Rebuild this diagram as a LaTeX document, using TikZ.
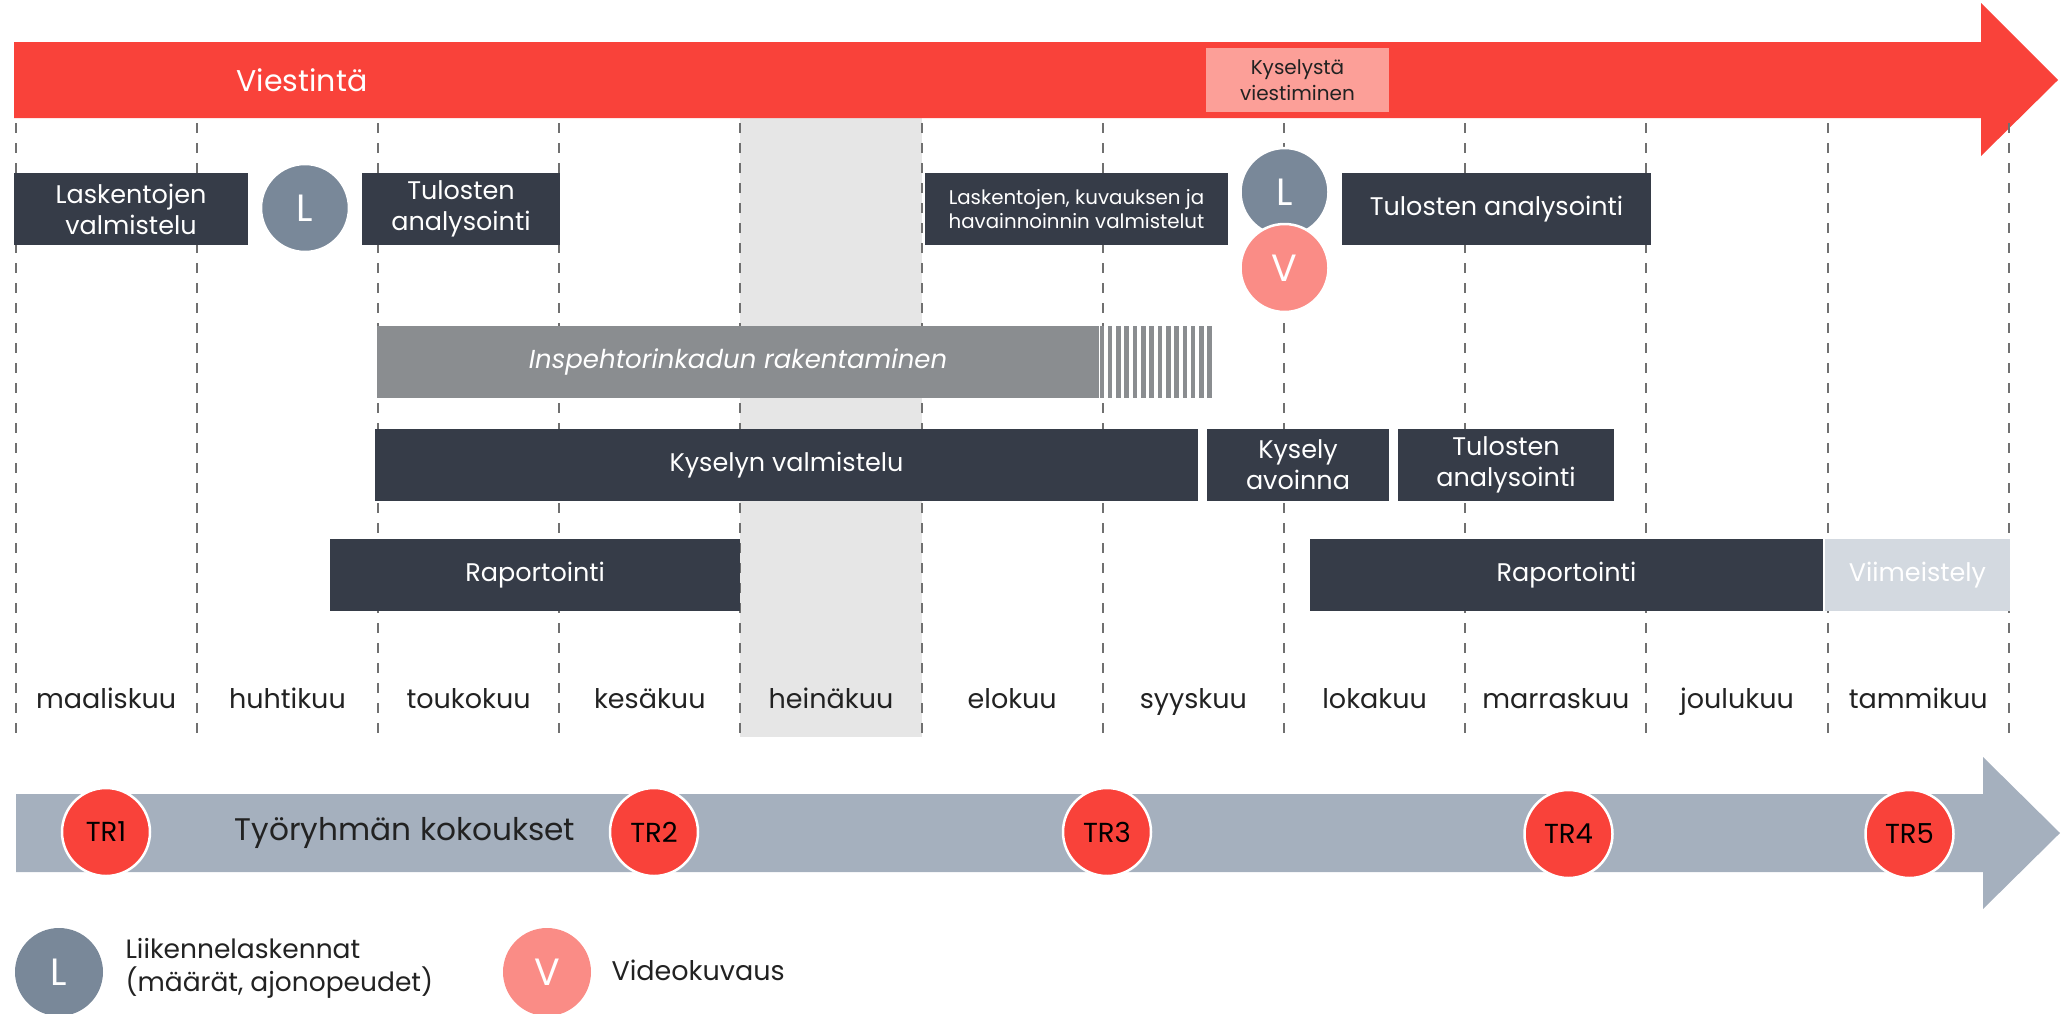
\documentclass[tikz,border=0pt]{standalone}
\usepackage{fontspec}
\setmainfont{Poppins}
\definecolor{vred}{HTML}{F9423A}
\definecolor{vpink}{HTML}{FC9F98}
\definecolor{dark}{HTML}{363C48}
\definecolor{lcirc}{HTML}{798899}
\definecolor{vcirc}{HTML}{FA8C86}
\definecolor{build}{HTML}{8A8D90}
\definecolor{meet}{HTML}{A5B0BE}
\definecolor{finish}{HTML}{D3D9E0}
\definecolor{summer}{HTML}{E6E6E6}
\definecolor{grid}{HTML}{707070}
\definecolor{ink}{HTML}{222222}
\tikzset{
  fs/.style={font=\fontsize{#1}{\dimexpr #1pt*13/10\relax}\selectfont},
  bar/.style={fill=dark, text=white, minimum height=72pt, inner sep=0pt, align=center, fs=25.5},
  lbadge/.style={circle, fill=lcirc, draw=white, line width=2.5pt, minimum size=88pt, inner sep=0pt, text=white, fs=38},
  vbadge/.style={circle, fill=vcirc, draw=white, line width=2.5pt, minimum size=88pt, inner sep=0pt, text=white, fs=38},
  trbadge/.style={circle, fill=vred, draw=white, line width=2.5pt, minimum size=88pt, inner sep=0pt, text=black, fs=27.5},
  gridline/.style={draw=grid, line width=2pt, dash pattern=on 10pt off 10pt},
  month/.style={text=ink, fs=27, anchor=base},
}
\begin{document}
\begin{tikzpicture}[x=1pt, y=-1pt]
\useasboundingbox (0,0) rectangle (2062,1013);

% summer month band
\fill[summer] (740.4,118) rectangle (921.6,737);

% communication arrow
\fill[vred] (14,42) -- (1981,42) -- (1981,3) -- (2058,80) -- (1981,156) -- (1981,118) -- (14,118) -- cycle;
\node[text=white, fs=30] (viestinta) at (302,80) {Viestintä};
\node[fill=vpink, text=ink, minimum width=183pt, minimum height=64pt, inner sep=0pt, align=center, fs=20] (kviest) at (1297.5,80) {Kyselystä\\[0pt]viestiminen};

% month grid
\foreach \k in {0,...,11}
  \draw[gridline] ({15.6+181.2*\k},123) -- ({15.6+181.2*\k},737);

\foreach \m [count=\k from 0] in {maaliskuu,huhtikuu,toukokuu,kesäkuu,heinäkuu,elokuu,syyskuu,lokakuu,marraskuu,joulukuu,tammikuu}
  \node[month] (m\k) at ({106.2+181.2*\k},708) {\m};

% row 1: counts and analysis
\node[bar, minimum width=234pt] (lasval) at (131,209) {Laskentojen\\[-2pt]valmistelu};
\node[lbadge] (lA) at (305,208) {L};
\node[bar, minimum width=198pt] (tulA) at (461,209) {Tulosten\\[-2pt]analysointi};
\node[bar, minimum width=303pt, fs=19.8] (lkh) at (1076.5,209) {Laskentojen, kuvauksen ja\\[-2pt]havainnoinnin valmistelut};
\node[lbadge] (lB) at (1284.5,192) {L};
\node[vbadge] (vB) at (1284.5,268) {V};
\node[bar, minimum width=309pt] (tulB) at (1496.5,209) {Tulosten analysointi};

% row 2: street construction
\node[fill=build, text=white, minimum width=722pt, minimum height=72pt, inner sep=0pt, fs=26] (insp) at (738,362) {\itshape Inspehtorinkadun rakentaminen};
\foreach \i in {0,...,13}
  \fill[build] ({1099.5+8.3*\i},326) rectangle ++(4.6,72);

% row 3: survey
\node[bar, minimum width=823pt] (kysval) at (786.5,465) {Kyselyn valmistelu};
\node[bar, minimum width=182pt] (kysav) at (1298,465) {Kysely\\[-2pt]avoinna};
\node[bar, minimum width=216pt] (tulC) at (1506,465) {Tulosten\\[-2pt]analysointi};

% row 4: reporting
\node[bar, minimum width=410.5pt] (rapA) at (535.2,575) {Raportointi};
\node[bar, minimum width=513pt] (rapB) at (1566.5,575) {Raportointi};
\node[bar, fill=finish, minimum width=185pt] (viim) at (1917.5,575) {Viimeistely};

% working group meetings arrow
\fill[meet] (16,794) -- (1983,794) -- (1983,757) -- (2060,833) -- (1983,909) -- (1983,872) -- (16,872) -- cycle;
\node[text=ink, fs=31.2] (tyo) at (405,833) {Työryhmän kokoukset};
\node[trbadge] (tr1) at (106,832) {TR1};
\node[trbadge] (tr2) at (654,832) {TR2};
\node[trbadge] (tr3) at (1107,832) {TR3};
\node[trbadge] (tr4) at (1568.5,834) {TR4};
\node[trbadge] (tr5) at (1909.5,834) {TR5};

% legend
\node[lbadge, draw=none] (legL) at (59,972) {L};
\node[anchor=west, align=left, text=ink, fs=26.5] (legLt) at (122,968) {Liikennelaskennat\\[-1.5pt](määrät, ajonopeudet)};
\node[vbadge, draw=none] (legV) at (547,972) {V};
\node[anchor=west, text=ink, fs=27] (legVt) at (608,970) {Videokuvaus};
\end{tikzpicture}
\end{document}
